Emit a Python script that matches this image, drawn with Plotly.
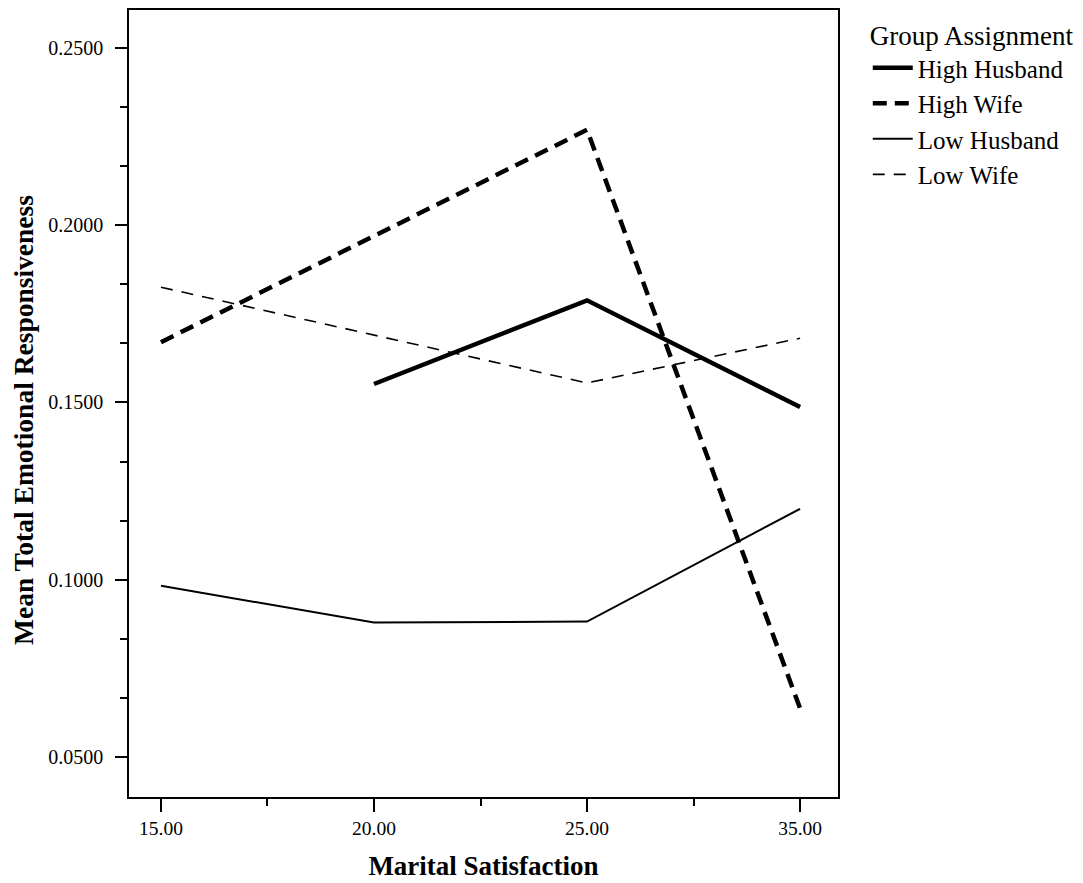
import plotly.graph_objects as go

categories = ["15.00", "20.00", "25.00", "35.00"]
high_husband = [None, 0.1552, 0.1788, 0.1487]
high_wife = [0.1670, None, 0.2269, 0.0637]
low_husband = [0.0983, 0.0879, 0.0882, 0.1200]
low_wife = [0.1825, None, 0.1555, 0.1681]
series_names = ["High Husband", "High Wife", "Low Husband", "Low Wife"]
y_ticks = [0.05, 0.10, 0.15, 0.20, 0.25]

xpos = list(range(len(categories)))
styles = [
    dict(width=4.5, dash="solid"),
    dict(width=4.5, dash="14px,8px"),
    dict(width=2, dash="solid"),
    dict(width=1.6, dash="12px,9px"),
]

fig = go.Figure()
for name, vals, st in zip(series_names, [high_husband, high_wife, low_husband, low_wife], styles):
    fig.add_trace(go.Scatter(
        x=xpos, y=vals, mode="lines", name=name, connectgaps=True,
        line=dict(color="black", width=st["width"], dash=st["dash"]),
    ))

font_fam = "Liberation Serif, Times New Roman, serif"
fig.update_layout(
    width=1075, height=875,
    margin=dict(l=121, r=245, t=0, b=86, pad=0),
    paper_bgcolor="white", plot_bgcolor="white",
    font=dict(family=font_fam, color="black", size=19),
    showlegend=True,
    legend=dict(
        x=1.042, y=1.0, xanchor="left", yanchor="top",
        title=dict(text="Group Assignment", font=dict(size=27, family=font_fam)),
        font=dict(size=25, family=font_fam),
        itemwidth=40,
        bgcolor="rgba(0,0,0,0)",
    ),
    xaxis=dict(
        range=[-0.150, 3.178],
        tickvals=xpos, ticktext=categories,
        showgrid=False, zeroline=False,
        showline=True, linecolor="black", linewidth=1.5, mirror=True,
        ticks="outside", ticklen=13, tickwidth=2, tickcolor="black",
        tickfont=dict(size=19.5, family=font_fam),
        minor=dict(dtick=0.5, tick0=0.5, ticks="outside", ticklen=7, tickwidth=2, tickcolor="black"),
        title=dict(text="<b>Marital Satisfaction</b>", font=dict(size=27, family=font_fam), standoff=18),
    ),
    yaxis=dict(
        range=[0.0387, 0.2607],
        tickvals=y_ticks, tickformat=".4f",
        showgrid=False, zeroline=False,
        showline=True, linecolor="black", linewidth=1.5, mirror=True,
        ticks="outside", ticklen=12, tickwidth=2, tickcolor="black",
        ticklabelstandoff=8,
        tickfont=dict(size=20, family=font_fam),
        minor=dict(dtick=0.05 / 3, tick0=0.05, ticks="outside", ticklen=7, tickwidth=2, tickcolor="black"),
    ),
)
fig.add_annotation(
    text="<b>Mean Total Emotional Responsiveness</b>",
    xref="paper", yref="paper", x=-0.1495, y=0.479,
    xanchor="center", yanchor="middle", textangle=-90, showarrow=False,
    font=dict(size=27.5, family=font_fam, color="black"),
)
fig.write_html("out.html")
